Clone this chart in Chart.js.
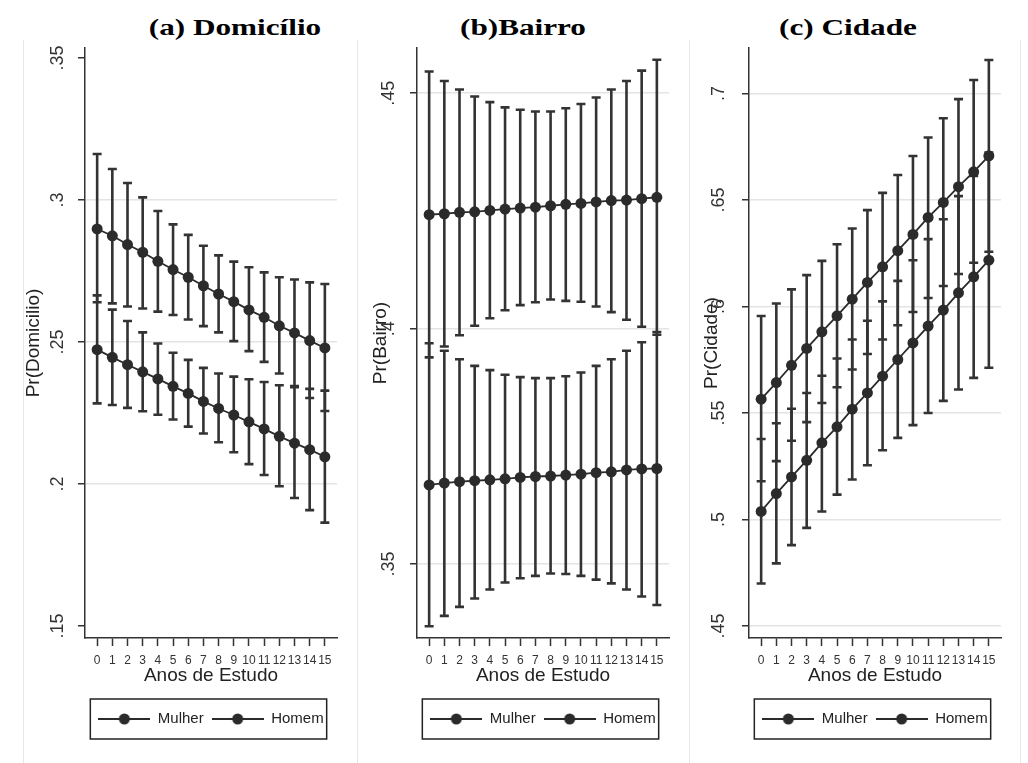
<!DOCTYPE html>
<html lang="pt">
<head>
<meta charset="utf-8">
<title>Probabilidades previstas por anos de estudo</title>
<script src="https://cdn.jsdelivr.net/npm/chart.js@4.4.1/dist/chart.umd.min.js"></script>
<style>
  html, body { margin: 0; padding: 0; background: #fff; overflow: hidden; width: 1028px; height: 763px; }
  .panel-title {
    position: absolute; top: 15px;
    font: bold 24px 'Liberation Serif', 'Times New Roman', serif; line-height: 24px;
    white-space: nowrap; color: #000;
    transform: translateX(-50%) scaleX(1.3);
  }
  .frame { position: absolute; top: 40px; bottom: 0; width: 1px; background: #e6e6e6; }
  canvas { position: absolute; top: 0; }
</style>
</head>
<body>
<div class="frame" style="left:23px"></div>
<div class="frame" style="left:357px"></div>
<div class="frame" style="left:689px"></div>
<div class="frame" style="left:1020px"></div>
<div class="panel-title" style="left:235px">(a) Domicílio</div>
<div class="panel-title" style="left:523px">(b)Bairro</div>
<div class="panel-title" style="left:848px">(c) Cidade</div>

<script>
// Anos de estudo (eixo x)
const anosEstudo = [0, 1, 2, 3, 4, 5, 6, 7, 8, 9, 10, 11, 12, 13, 14, 15];

// (a) Domicílio: probabilidade prevista e intervalo de confiança
const mulherDom   = [0.2898, 0.2874, 0.2843, 0.2816, 0.2784, 0.2755, 0.2728, 0.2698, 0.2669, 0.2642, 0.2613, 0.2587, 0.2557, 0.2532, 0.2505, 0.2479];
const mulherDomLo = [0.2640, 0.2636, 0.2625, 0.2618, 0.2607, 0.2595, 0.2579, 0.2556, 0.2534, 0.2503, 0.2468, 0.2430, 0.2389, 0.2345, 0.2303, 0.2257];
const mulherDomHi = [0.3162, 0.3109, 0.3060, 0.3009, 0.2961, 0.2914, 0.2877, 0.2839, 0.2805, 0.2783, 0.2763, 0.2745, 0.2728, 0.2720, 0.2710, 0.2704];
const homemDom    = [0.2473, 0.2446, 0.2420, 0.2395, 0.2370, 0.2344, 0.2319, 0.2291, 0.2266, 0.2243, 0.2219, 0.2194, 0.2168, 0.2144, 0.2121, 0.2096];
const homemDomLo  = [0.2284, 0.2278, 0.2268, 0.2256, 0.2244, 0.2227, 0.2202, 0.2178, 0.2147, 0.2112, 0.2070, 0.2032, 0.1992, 0.1951, 0.1908, 0.1864];
const homemDomHi  = [0.2664, 0.2614, 0.2574, 0.2534, 0.2495, 0.2462, 0.2437, 0.2409, 0.2389, 0.2378, 0.2369, 0.2359, 0.2348, 0.2341, 0.2335, 0.2329];
const ticksDom    = [0.15, 0.2, 0.25, 0.3, 0.35];

// (b) Bairro
const mulherBai   = [0.4242, 0.4244, 0.4247, 0.4248, 0.4251, 0.4254, 0.4256, 0.4258, 0.4261, 0.4264, 0.4266, 0.4269, 0.4272, 0.4273, 0.4276, 0.4279];
const mulherBaiLo = [0.3939, 0.3962, 0.3986, 0.4006, 0.4022, 0.4039, 0.4050, 0.4056, 0.4062, 0.4059, 0.4057, 0.4047, 0.4035, 0.4019, 0.4004, 0.3987];
const mulherBaiHi = [0.4546, 0.4526, 0.4508, 0.4493, 0.4481, 0.4470, 0.4465, 0.4461, 0.4461, 0.4468, 0.4477, 0.4491, 0.4508, 0.4526, 0.4548, 0.4571];
const homemBai    = [0.3668, 0.3672, 0.3675, 0.3677, 0.3679, 0.3681, 0.3684, 0.3686, 0.3687, 0.3689, 0.3691, 0.3694, 0.3696, 0.3700, 0.3702, 0.3703];
const homemBaiLo  = [0.3368, 0.3390, 0.3409, 0.3427, 0.3446, 0.3461, 0.3470, 0.3475, 0.3480, 0.3479, 0.3475, 0.3467, 0.3459, 0.3446, 0.3431, 0.3413];
const homemBaiHi  = [0.3969, 0.3953, 0.3935, 0.3921, 0.3912, 0.3902, 0.3897, 0.3895, 0.3895, 0.3899, 0.3907, 0.3921, 0.3935, 0.3953, 0.3971, 0.3993];
const ticksBai    = [0.35, 0.4, 0.45];

// (c) Cidade
const mulherCid   = [0.5565, 0.5643, 0.5724, 0.5803, 0.5881, 0.5956, 0.6034, 0.6113, 0.6186, 0.6262, 0.6338, 0.6418, 0.6488, 0.6562, 0.6632, 0.6707];
const mulherCidLo = [0.5180, 0.5274, 0.5370, 0.5457, 0.5547, 0.5621, 0.5704, 0.5777, 0.5845, 0.5912, 0.5974, 0.6040, 0.6096, 0.6152, 0.6205, 0.6257];
const mulherCidHi = [0.5955, 0.6014, 0.6080, 0.6147, 0.6214, 0.6292, 0.6366, 0.6452, 0.6533, 0.6617, 0.6706, 0.6793, 0.6883, 0.6973, 0.7063, 0.7157];
const homemCid    = [0.5038, 0.5122, 0.5200, 0.5278, 0.5360, 0.5435, 0.5518, 0.5594, 0.5673, 0.5751, 0.5829, 0.5908, 0.5983, 0.6064, 0.6139, 0.6217];
const homemCidLo  = [0.4700, 0.4794, 0.4880, 0.4961, 0.5038, 0.5117, 0.5188, 0.5255, 0.5325, 0.5383, 0.5443, 0.5500, 0.5557, 0.5610, 0.5665, 0.5712];
const homemCidHi  = [0.5378, 0.5452, 0.5520, 0.5594, 0.5675, 0.5756, 0.5845, 0.5933, 0.6024, 0.6120, 0.6217, 0.6316, 0.6409, 0.6518, 0.6613, 0.6722];
const ticksCid    = [0.45, 0.5, 0.55, 0.6, 0.65, 0.7];

const seriesNames = ['Mulher', 'Homem'];

Chart.defaults.font.family = "'Liberation Sans', Arial, sans-serif";
Chart.defaults.color = '#222';

const INK = '#2b2b2b';

// Vertical confidence-interval bars with caps, placed through the chart scales
const errorBars = {
  id: 'errorBars',
  beforeDatasetsDraw(chart) {
    const { ctx, scales: { x, y } } = chart;
    ctx.save();
    ctx.strokeStyle = '#333';
    ctx.lineWidth = 2.6;
    ctx.lineCap = 'butt';
    chart.data.datasets.forEach(ds => {
      ds.data.forEach((pt, i) => {
        const px = x.getPixelForValue(pt.x);
        const yLo = y.getPixelForValue(ds.errLo[i]);
        const yHi = y.getPixelForValue(ds.errHi[i]);
        ctx.beginPath();
        ctx.moveTo(px, yLo); ctx.lineTo(px, yHi);
        ctx.moveTo(px - 4.5, yLo); ctx.lineTo(px + 4.5, yLo);
        ctx.moveTo(px - 4.5, yHi); ctx.lineTo(px + 4.5, yHi);
        ctx.stroke();
      });
    });
    ctx.restore();
  }
};

// Outline around the legend entries
const legendFrame = {
  id: 'legendFrame',
  afterDraw(chart) {
    const lg = chart.legend;
    if (!lg || !lg.legendHitBoxes || !lg.legendHitBoxes.length) return;
    const hb = lg.legendHitBoxes;
    const first = hb[0], last = hb[hb.length - 1];
    const cy = first.top + first.height / 2;
    const ctx = chart.ctx;
    ctx.save();
    ctx.strokeStyle = '#222';
    ctx.lineWidth = 1.5;
    ctx.strokeRect(first.left - 8, cy - 20, last.left + last.width - first.left + 11, 40);
    ctx.restore();
  }
};

// Legend symbol: short line with a marker in the middle
const legendMark = document.createElement('canvas');
legendMark.width = 52; legendMark.height = 12;
(function () {
  const c = legendMark.getContext('2d');
  c.strokeStyle = INK; c.lineWidth = 2;
  c.beginPath(); c.moveTo(0, 6); c.lineTo(52, 6); c.stroke();
  c.fillStyle = INK;
  c.beginPath(); c.arc(26, 6, 5.5, 0, Math.PI * 2); c.fill();
})();

function series(label, values, lo, hi) {
  return {
    label,
    data: anosEstudo.map((a, i) => ({ x: a, y: values[i] })),
    errLo: lo,
    errHi: hi,
    borderColor: INK,
    borderWidth: 1.8,
    pointRadius: 5.5,
    pointBackgroundColor: INK,
    pointBorderColor: INK,
    pointBorderWidth: 0,
    tension: 0,
    fill: false
  };
}

function buildPanel(p) {
  const canvas = document.createElement('canvas');
  canvas.width = p.width; canvas.height = 763;
  canvas.style.left = p.left + 'px';
  canvas.style.width = p.width + 'px';
  canvas.style.height = '763px';
  document.body.appendChild(canvas);

  new Chart(canvas, {
    type: 'line',
    data: {
      datasets: [
        series(seriesNames[0], p.mulher, p.mulherLo, p.mulherHi),
        series(seriesNames[1], p.homem, p.homemLo, p.homemHi)
      ]
    },
    options: {
      responsive: false,
      animation: false,
      devicePixelRatio: 1,
      layout: { padding: { top: 48, bottom: 26.5, left: 0, right: p.padRight } },
      scales: {
        x: {
          type: 'linear', position: 'bottom', min: -0.8, max: 15.8,
          afterBuildTicks: s => { s.ticks = anosEstudo.map(v => ({ value: v })); },
          afterFit: s => { s.height = 65.5; },
          ticks: {
            autoSkip: false, minRotation: 0, maxRotation: 0, padding: 7,
            color: '#333', font: { size: 12 },
            callback: v => String(v)
          },
          grid: { drawOnChartArea: false, drawTicks: true, tickLength: 8, tickColor: '#333', tickWidth: 1.5 },
          border: { display: true, color: '#333', width: 1.5 },
          title: { display: true, text: 'Anos de Estudo', color: '#222', font: { size: 19 }, padding: { top: 0, bottom: 16 } }
        },
        y: {
          type: 'linear', position: 'left', min: p.yMin, max: p.yMax,
          afterBuildTicks: s => { s.ticks = p.yTicks.map(v => ({ value: v })); },
          afterFit: s => { s.width = p.yWidth; },
          ticks: {
            autoSkip: false, minRotation: 90, maxRotation: 90, crossAlign: 'center',
            padding: p.tickPad, color: '#333', font: { size: 18 },
            callback: v => String(v).replace(/^0/, '')
          },
          grid: {
            color: ctx => (p.skipEndGrid && (ctx.index === 0 || ctx.index === p.yTicks.length - 1)) ? 'rgba(0,0,0,0)' : '#e4e4e4',
            lineWidth: 1.5, tickLength: 7, tickColor: '#333', tickWidth: 1.5
          },
          border: { display: true, color: '#333', width: 1.5 },
          title: { display: true, text: p.yTitle, color: '#222', font: { size: 19 }, padding: { top: p.titlePad, bottom: 0 } }
        }
      },
      plugins: {
        legend: {
          display: true, position: 'bottom', fullSize: false, align: 'center',
          labels: {
            usePointStyle: true, pointStyleWidth: 52, padding: 8,
            color: '#222', font: { size: 15 },
            generateLabels: chart => chart.data.datasets.map((ds, i) => ({
              text: ds.label, pointStyle: legendMark, datasetIndex: i, hidden: false,
              lineWidth: 0, fillStyle: INK, strokeStyle: INK, fontColor: '#222'
            }))
          }
        },
        tooltip: { enabled: false },
        title: { display: false }
      }
    },
    plugins: [errorBars, legendFrame]
  });
}

buildPanel({
  left: 0, width: 350, padRight: 13, yWidth: 85, tickPad: 7.5, titlePad: 22.6,
  yMin: 0.1458, yMax: 0.3535, yTicks: ticksDom, skipEndGrid: true, yTitle: 'Pr(Domicilio)',
  mulher: mulherDom, mulherLo: mulherDomLo, mulherHi: mulherDomHi,
  homem: homemDom, homemLo: homemDomLo, homemHi: homemDomHi
});
buildPanel({
  left: 345, width: 335, padRight: 11, yWidth: 72, tickPad: 8, titlePad: 24.6,
  yMin: 0.3343, yMax: 0.4596, yTicks: ticksBai, skipEndGrid: false, yTitle: 'Pr(Bairro)',
  mulher: mulherBai, mulherLo: mulherBaiLo, mulherHi: mulherBaiHi,
  homem: homemBai, homemLo: homemBaiLo, homemHi: homemBaiHi
});
buildPanel({
  left: 680, width: 348, padRight: 27, yWidth: 69, tickPad: 10.5, titlePad: 20.6,
  yMin: 0.4444, yMax: 0.7213, yTicks: ticksCid, skipEndGrid: false, yTitle: 'Pr(Cidade)',
  mulher: mulherCid, mulherLo: mulherCidLo, mulherHi: mulherCidHi,
  homem: homemCid, homemLo: homemCidLo, homemHi: homemCidHi
});
</script>
</body>
</html>
